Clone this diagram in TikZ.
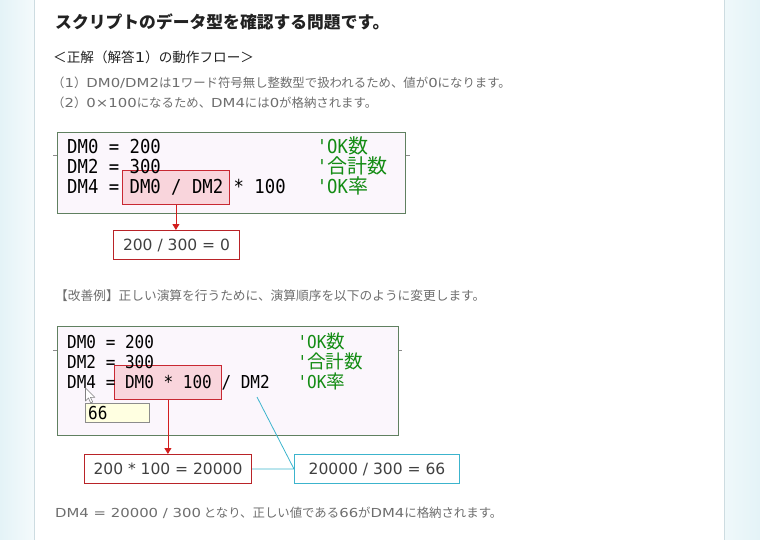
\documentclass[tikz,border=0pt]{standalone}
\usepackage{fontspec}
\setmainfont{Noto Sans CJK JP}
\newfontfamily\latinfont{DejaVu Sans}[FakeStretch=1.2]
\newfontfamily\resfont{DejaVu Sans}
\newfontfamily\codefont{DejaVu Sans Mono}[FakeStretch=0.9]
\newfontfamily\cjkcode{Noto Sans CJK JP}
\newcommand\lat[1]{{\latinfont #1}}
\usetikzlibrary{arrows.meta,positioning}
\definecolor{codegreen}{RGB}{96,128,96}
\definecolor{codefill}{RGB}{251,246,252}
\definecolor{hlred}{RGB}{200,40,50}
\definecolor{hlpink}{RGB}{249,213,220}
\definecolor{arrowred}{RGB}{210,30,30}
\definecolor{resred}{RGB}{185,35,40}
\definecolor{rescyan}{RGB}{60,180,205}
\definecolor{cmtgreen}{RGB}{20,140,20}
\definecolor{tipfill}{RGB}{255,255,225}
\definecolor{tipline}{RGB}{140,140,140}
\definecolor{panelblue}{RGB}{228,243,247}
\definecolor{panelline}{RGB}{205,220,225}
\definecolor{txtdark}{RGB}{34,34,34}
\definecolor{txtgray}{RGB}{110,110,110}
\definecolor{restext}{RGB}{64,64,64}
\begin{document}
\begin{tikzpicture}[x=1pt,y=-1pt,>={Triangle[length=6pt,width=7pt]},
    codebox/.style={draw=codegreen,fill=codefill,line width=1pt,anchor=north west,inner sep=0pt},
    hlbox/.style={draw=hlred,fill=hlpink,line width=0.8pt,anchor=north west,inner sep=0pt,minimum height=34},
    resbox/.style={draw=#1,fill=white,line width=1pt,anchor=north west,inner sep=0pt,minimum height=29,
        text=restext,font=\resfont\fontsize{15.5}{16}\selectfont},
    codeA/.style={anchor=base west,inner sep=0pt,font=\codefont\fontsize{19.2}{20}\selectfont},
    codeB/.style={anchor=base west,inner sep=0pt,font=\codefont\fontsize{17.8}{20}\selectfont},
    bodytext/.style={anchor=west,inner sep=0pt,text=txtgray,font=\fontsize{12.4}{15}\selectfont},
    tick/.style={draw=tipline,line width=0.8pt}]
    \useasboundingbox (0,0) rectangle (760,540);
    \shade[left color=panelblue,right color=panelblue!40] (0,0) rectangle (34,540);
    \shade[left color=panelblue!60,right color=panelblue] (725,0) rectangle (760,540);
    \draw[panelline] (34.5,0) -- (34.5,540) (724.5,0) -- (724.5,540);
    % headings
    \node[anchor=west,inner sep=0pt,text=txtdark,font=\fontsize{16.8}{18}\selectfont\bfseries] (title) at (55,22) {スクリプトのデータ型を確認する問題です。};
    \node[anchor=west,inner sep=0pt,text=txtdark,font=\fontsize{13.6}{16}\selectfont] (flow) at (53,57) {＜正解（解答\lat{1}）の動作フロー＞};
    \node[bodytext] (step1) at (52,83) {（\lat{1}）\lat{DM0/DM2}は\lat{1}ワード符号無し整数型で扱われるため、値が\lat{0}になります。};
    \node[bodytext] (step2) at (52,103) {（\lat{2}）\lat{0×100}になるため、\lat{DM4}には\lat{0}が格納されます。};
    % first script
    \draw[tick] (53,155) -- (57,155) (405,155) -- (410,155);
    \node[codebox,minimum width=348,minimum height=81] (code1) at (57,132) {};
    \node[hlbox,minimum width=107] (hl1) at (122,170) {};
    \node[codeA] (l1a) at (67,153.5) {DM0 = 200};
    \node[codeA] (l1b) at (67,173.5) {DM2 = 300};
    \node[codeA] (l1c) at (67,193.5) {DM4 = DM0 / DM2 * 100};
    \node[codeA,text=cmtgreen] (c1a) at (316.6,153.5) {'OK{\cjkcode\fontsize{20}{20}\selectfont 数}};
    \node[codeA,text=cmtgreen] (c1b) at (316.6,173.5) {'{\cjkcode\fontsize{20}{20}\selectfont 合計数}};
    \node[codeA,text=cmtgreen] (c1c) at (316.6,193.5) {'OK{\cjkcode\fontsize{20}{20}\selectfont 率}};
    \node[resbox=resred,minimum width=126] (res1) at (113,230) {200 / 300 = 0};
    \draw[->,arrowred,line width=0.8pt] (hl1.south) -- (hl1.south |- res1.north);
    % second script
    \node[bodytext,font=\fontsize{12.7}{15}\selectfont] (better) at (55,296) {【改善例】正しい演算を行うために、演算順序を以下のように変更します。};
    \draw[tick] (53,350) -- (57,350) (398,350) -- (402,350);
    \node[codebox,minimum width=341,minimum height=109] (code2) at (57,326) {};
    \node[hlbox,minimum width=107] (hl2) at (114,365) {};
    \node[codeB] (l2a) at (67,348) {DM0 = 200};
    \node[codeB] (l2b) at (67,368) {DM2 = 300};
    \node[codeB] (l2c) at (67,388) {DM4 = DM0 * 100 / DM2};
    \node[codeB,text=cmtgreen] (c2a) at (297.4,348) {'OK{\cjkcode\fontsize{18.6}{20}\selectfont 数}};
    \node[codeB,text=cmtgreen] (c2b) at (297.4,368) {'{\cjkcode\fontsize{18.6}{20}\selectfont 合計数}};
    \node[codeB,text=cmtgreen] (c2c) at (297.4,388) {'OK{\cjkcode\fontsize{18.6}{20}\selectfont 率}};
    \node[draw=tipline,fill=tipfill,anchor=north west,inner sep=0pt,minimum width=64,minimum height=19] (tip) at (85,403) {};
    \node[codeB,anchor=west] (tiptext) at ([xshift=3]tip.west) {66};
    \draw[fill=white,draw=gray,line width=0.6pt,line join=round] (85.5,388) -- ++(0,13) -- ++(3,-3) -- ++(2.2,5) -- ++(2,-1) -- ++(-2.2,-4.6) -- ++(4.4,0) -- cycle;
    \coordinate (dm2) at (257,397);
    \node[resbox=resred,minimum width=167] (res2) at (84,454) {200 * 100 = 20000};
    \node[resbox=rescyan,minimum width=165] (res3) at (294,454) {20000 / 300 = 66};
    \draw[->,arrowred,line width=0.8pt] (hl2.south) -- (hl2.south |- res2.north);
    \draw[rescyan,line width=0.8pt] (res2.east) -- (res3.west) (dm2) -- (res3.west);
    \node[bodytext] (result) at (55,513) {\lat{DM4 = 20000 / 300} となり、正しい値である\lat{66}が\lat{DM4}に格納されます。};
\end{tikzpicture}
\end{document}
